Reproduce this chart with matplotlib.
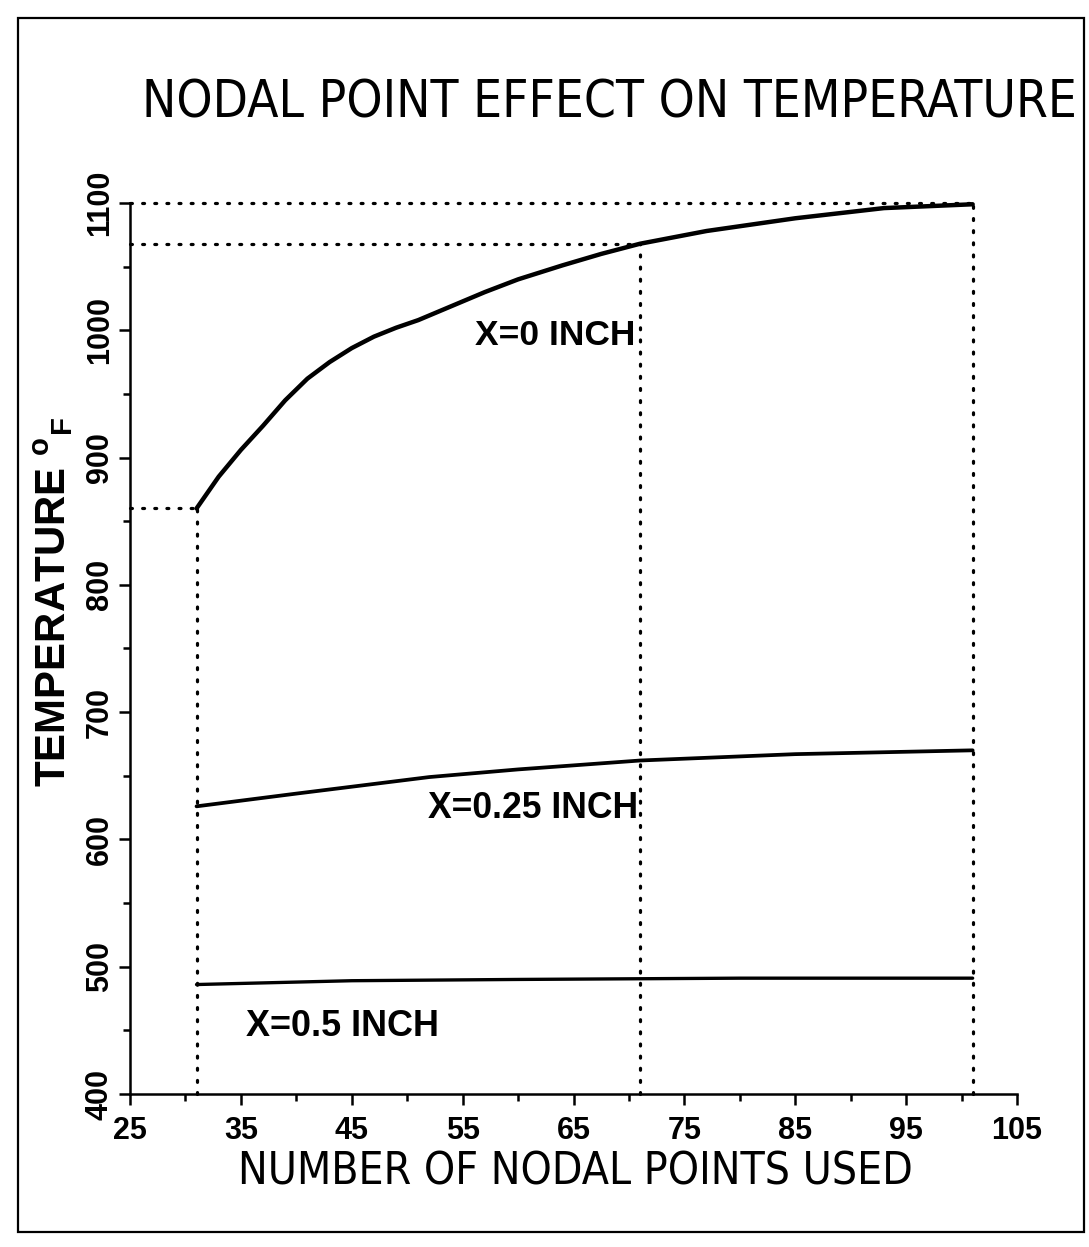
import matplotlib
matplotlib.use("Agg")
import matplotlib.pyplot as plt
from matplotlib.patches import Rectangle
from matplotlib.ticker import MultipleLocator

# ---------------- data ----------------
nodes_x0 = [31, 33, 35, 37, 39, 41, 43, 45, 47, 49, 51, 54, 57, 60, 64, 67.5, 71, 77, 85, 93, 101]
temp_x0 = [860, 885, 906, 925, 945, 962, 975, 986, 995, 1002, 1008, 1019, 1030, 1040, 1051, 1060, 1068, 1078, 1088, 1096, 1099]

nodes_x025 = [31, 40, 52, 60, 71, 85, 101]
temp_x025 = [626, 636, 649, 655, 662, 667, 670]

nodes_x05 = [31, 45, 60, 80, 101]
temp_x05 = [486, 489, 490, 491, 491]

ref_nodes = [31, 71, 101]
ref_temps = [860, 1068, 1100]

x_ticks = [25, 35, 45, 55, 65, 75, 85, 95, 105]
y_ticks = [400, 500, 600, 700, 800, 900, 1000, 1100]

labels = ["X=0 INCH", "X=0.25 INCH", "X=0.5 INCH"]
label_pos = [(56.1, 996), (51.9, 624), (35.5, 453)]

title = "NODAL POINT EFFECT ON TEMPERATURE"
xlabel = "NUMBER OF NODAL POINTS USED"

# ---------------- style ----------------
plt.rcParams['font.family'] = ['Liberation Sans', 'DejaVu Sans']
plt.rcParams['mathtext.fontset'] = 'custom'
plt.rcParams['mathtext.rm'] = 'Liberation Sans'
plt.rcParams['mathtext.bf'] = 'Liberation Sans:bold'

W, H = 1089, 1247
fig = plt.figure(figsize=(W / 100, H / 100), dpi=100)
fig.patch.set_facecolor('white')

def fx(px):
    return px / W

def fy(py):
    return 1 - py / H

ax = fig.add_axes([fx(130), fy(1094), fx(1017) - fx(130), fy(203) - fy(1094)])
ax.set_xlim(25, 105)
ax.set_ylim(400, 1100)
for s in ['top', 'right']:
    ax.spines[s].set_visible(False)
for s in ['left', 'bottom']:
    ax.spines[s].set_linewidth(1.8)

ax.set_xticks(x_ticks)
ax.set_xticklabels([str(v) for v in x_ticks], fontsize=22, fontweight='bold')
ax.set_yticks(y_ticks)
ax.set_yticklabels([str(v) for v in y_ticks], fontsize=22, fontweight='bold',
                   rotation=90, va='center')
ax.xaxis.set_minor_locator(MultipleLocator(5))
ax.yaxis.set_minor_locator(MultipleLocator(50))
ax.tick_params(which='major', direction='out', length=8, width=1.8)
ax.tick_params(which='minor', direction='out', length=5, width=1.8)
ax.tick_params(axis='x', which='major', pad=8)
ax.tick_params(axis='y', which='major', pad=3)

# curves
ax.plot(nodes_x0, temp_x0, color='black', lw=3.2, solid_capstyle='round',
        solid_joinstyle='round', clip_on=False)
ax.plot(nodes_x025, temp_x025, color='black', lw=2.7, solid_capstyle='round', clip_on=False)
ax.plot(nodes_x05, temp_x05, color='black', lw=2.4, solid_capstyle='round', clip_on=False)

# dotted reference lines
dot = dict(color='black', lw=2.3, linestyle=(0, (0.6, 3.2)), dash_capstyle='round', clip_on=False)
for n, t in zip(ref_nodes, ref_temps):
    ax.plot([25, n], [t, t], **dot)
    ax.plot([n, n], [400, t], **dot)

# curve labels
ann = []
for txt, (lx, ly) in zip(labels, label_pos):
    ann.append(ax.text(lx, ly, txt, fontsize=19, fontweight='bold', ha='left', va='center'))

# titles
cond = ['DejaVu Sans', 'Liberation Sans']
t_title = fig.text(fx(609), fy(118), title, fontsize=40, ha='center', va='baseline',
                   family=cond, fontstretch='condensed')
t_xlabel = fig.text(fx(575), fy(1190), xlabel, fontsize=28, ha='center', va='baseline',
                    family=cond, fontstretch='condensed')
t_ylabel = fig.text(fx(54), fy(602), r'TEMPERATURE $^{\mathbf{o}}$$_{\mathbf{F}}$', fontsize=28,
                    fontweight='bold', ha='center', va='center', rotation=90)

# border frame
fig.patches.append(Rectangle((fx(18), fy(1232)), fx(1084) - fx(18), fy(18) - fy(1232),
                             transform=fig.transFigure, fill=False, edgecolor='black', lw=1.6))

# fit text widths to the reference
renderer = fig.canvas.get_renderer()
def fit_w(t, target):
    bb = t.get_window_extent(renderer)
    t.set_fontsize(t.get_fontsize() * target / bb.width)
def fit_h(t, target):
    bb = t.get_window_extent(renderer)
    t.set_fontsize(t.get_fontsize() * target / bb.height)

fit_w(t_title, 932)
fit_w(t_xlabel, 675)
fit_h(t_ylabel, 370)
for t, w in zip(ann, [160, 210, 193]):
    fit_w(t, w)

# x label: cap tops at about y=1152 px
cap = t_xlabel.get_fontsize() * 100 / 72 * 0.73
t_xlabel.set_y(fy(1152 + cap))

fig.savefig('out.png', dpi=100, facecolor='white')
